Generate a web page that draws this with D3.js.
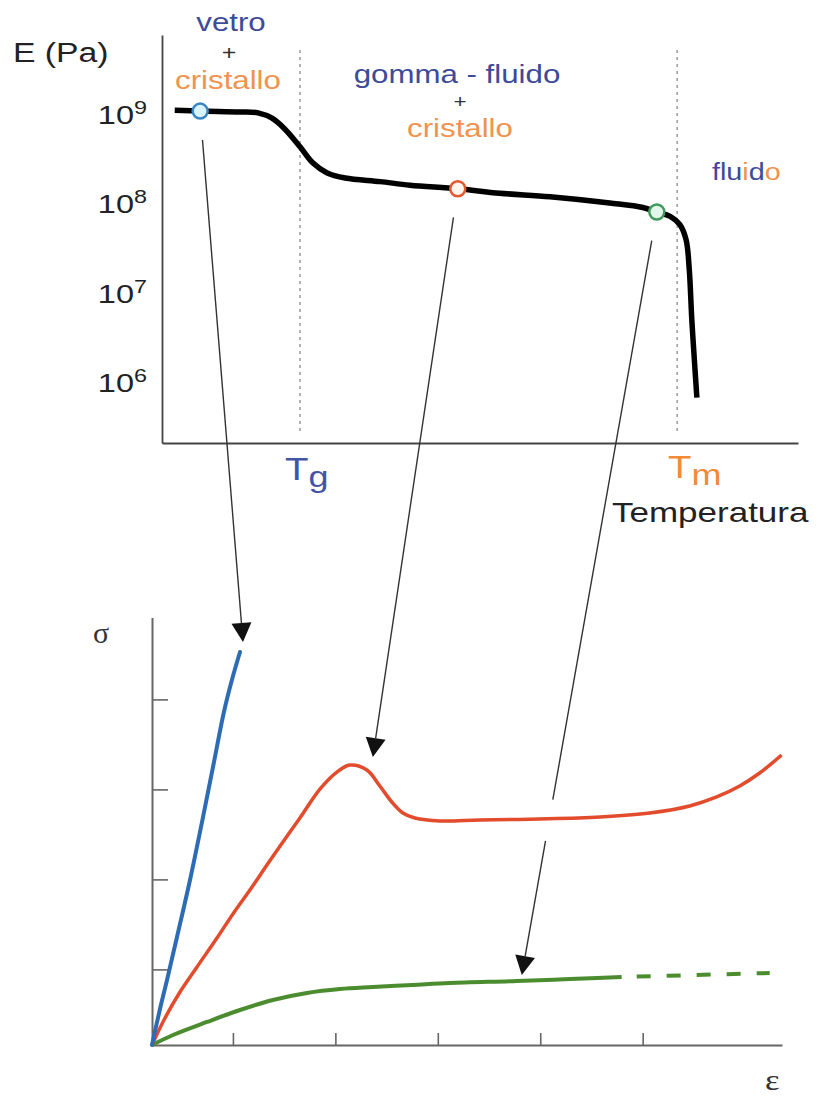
<!DOCTYPE html>
<html><head><meta charset="utf-8">
<script src="https://cdn.jsdelivr.net/npm/d3@7"></script>
<style>html,body{margin:0;padding:0;background:#fff;} svg{display:block;}</style>
</head><body>
<svg id="chart" width="821" height="1096"></svg>
<script>
// ---------- Top chart: modulus E vs temperature (T in arbitrary units along the axis) ----------
const temperature = [2.0, 6.0, 12.3, 15.1, 17.3, 19.3, 21.7, 23.7, 25.9, 28.8, 34.3, 39.0, 46.5, 53.1, 61.0, 70.4, 75.6, 77.8, 79.9, 81.4, 82.4, 82.9, 83.3, 83.8, 84.1];
const logModulus  = [9.02, 9.01, 9.00, 8.99, 8.93, 8.81, 8.61, 8.43, 8.32, 8.26, 8.22, 8.18, 8.14, 8.09, 8.05, 7.98, 7.93, 7.88, 7.83, 7.74, 7.57, 7.24, 6.68, 6.12, 5.80];
const modulusTicks = [1e9, 1e8, 1e7, 1e6];
const modulusTickExp = ["9", "8", "7", "6"];
const transitionT = [21.7, 81.0];           // Tg, Tm
const markerT = [6.0, 46.5, 77.8];
const markerLogE = [9.01, 8.14, 7.88];

// ---------- Bottom chart: stress sigma vs strain epsilon ----------
const strainGlass  = [0, 0.078, 0.146, 0.244, 0.371, 0.498, 0.605, 0.702, 0.780, 0.859];
const stressGlass  = [0, 0.400, 0.720, 1.200, 1.833, 2.533, 3.144, 3.700, 4.056, 4.367];
const strainRubber = [0, 0.127, 0.273, 0.439, 0.634, 0.790, 0.956, 1.122, 1.278, 1.444, 1.639, 1.805, 1.932, 2.098, 2.224, 2.341, 2.449, 2.566, 2.810, 3.200, 3.785, 4.371, 4.859, 5.249, 5.512, 5.737, 5.932, 6.146];
const stressRubber = [0, 0.300, 0.589, 0.867, 1.189, 1.456, 1.722, 2.000, 2.256, 2.522, 2.844, 3.033, 3.111, 3.056, 2.878, 2.700, 2.578, 2.522, 2.489, 2.500, 2.511, 2.533, 2.578, 2.656, 2.756, 2.878, 3.022, 3.222];
const strainMelt   = [0, 0.205, 0.537, 0.859, 1.180, 1.512, 1.834, 2.156, 2.546, 2.907, 3.561, 4.078, 4.585];
const stressMelt   = [0, 0.111, 0.256, 0.389, 0.500, 0.578, 0.622, 0.644, 0.667, 0.689, 0.711, 0.733, 0.756];
const strainMeltDash = [4.585, 6.03];
const stressMeltDash = [0.756, 0.800];
const strainTicks = [0.79, 1.79, 2.79, 3.79, 4.79];
const stressTicks = [0.84, 1.84, 2.84, 3.84];
const arrowTargetStrain = [0.888, 2.156, 3.61];
const arrowTargetStress = [4.478, 3.20, 0.778];

// ---------- drawing ----------
const svg = d3.select("#chart");
svg.append("rect").attr("width", 821).attr("height", 1096).attr("fill", "#fff");
const SANS = "'Liberation Sans', Arial, Helvetica, sans-serif";
const SERIF = "'Liberation Serif', 'Times New Roman', serif";
const BLUE_TXT = "#3d4b98", ORANGE_TXT = "#f09250";
const markerStroke = ["#3a86c2", "#e8552e", "#3f9a5c"];
const markerFill = ["#d9f3fb", "#fff4ee", "#e3f6ea"];

function label(x, y, parts, o) {
  o = o || {};
  const g = svg.append("g").attr("transform", `translate(${x},${y}) scale(${o.sx || 1.25},1)`);
  const t = g.append("text").attr("font-family", o.family || SANS).attr("font-size", o.size || 25)
    .attr("text-anchor", o.anchor || "start").attr("fill", o.fill || "#222");
  parts.forEach(p => {
    const ts = t.append("tspan").text(p.t);
    if (p.fill) ts.attr("fill", p.fill);
    if (p.size) ts.attr("font-size", p.size);
    if (p.dy) ts.attr("dy", p.dy);
  });
  return t;
}

// scales top
const xT = d3.scaleLinear().domain([0, 100]).range([162, 798]);
const yE = d3.scaleLog().domain([1.96e5, 7.28e9]).range([443, 35]);

// transition dotted lines
transitionT.forEach(t => {
  svg.append("line").attr("x1", xT(t)).attr("x2", xT(t))
    .attr("y1", yE.range()[1] + 15).attr("y2", yE.range()[0] - 12)
    .attr("stroke", "#9a9a9a").attr("stroke-width", 1.5).attr("stroke-dasharray", "3,4");
});

// axes top
const axY = svg.append("g").attr("transform", "translate(162,0)")
  .call(d3.axisLeft(yE).tickValues([]).tickSizeOuter(0));
const axX = svg.append("g").attr("transform", "translate(0,443)")
  .call(d3.axisBottom(xT).tickValues([]).tickSizeOuter(0));
[axY, axX].forEach(a => a.select(".domain").attr("stroke", "#444").attr("stroke-width", 1.8));

// tick labels
modulusTicks.forEach((v, i) => {
  label(147, yE(v) + 12, [{ t: "10" }, { t: modulusTickExp[i], size: 18, dy: -10 }],
    { anchor: "end", size: 25, sx: 1.3, fill: "#222" });
});

// modulus curve
const lineTop = d3.line().x(d => xT(d[0])).y(d => yE(Math.pow(10, d[1]))).curve(d3.curveCatmullRom.alpha(0.5));
svg.append("path").datum(d3.zip(temperature, logModulus)).attr("d", lineTop)
  .attr("fill", "none").attr("stroke", "#000").attr("stroke-width", 5.5).attr("stroke-linejoin", "round");

// bottom scales
const xS = d3.scaleLinear().domain([0, 6.15]).range([152, 782]);
const yS = d3.scaleLinear().domain([0, 4.75]).range([1045, 617.5]);

const axYb = svg.append("g").attr("transform", "translate(152,0)")
  .call(d3.axisLeft(yS).tickValues(stressTicks).tickSize(-16).tickSizeOuter(0).tickFormat(""));
const axXb = svg.append("g").attr("transform", "translate(0,1045)")
  .call(d3.axisBottom(xS).tickValues(strainTicks).tickSize(-12).tickSizeOuter(0).tickFormat(""));
[axYb, axXb].forEach(a => {
  a.select(".domain").attr("stroke", "#666").attr("stroke-width", 2);
  a.selectAll(".tick line").attr("stroke", "#666").attr("stroke-width", 1.6);
});

const lineB = d3.line().x(d => xS(d[0])).y(d => yS(d[1])).curve(d3.curveCatmullRom.alpha(0.5));
svg.append("path").datum(d3.zip(strainMelt, stressMelt)).attr("d", lineB)
  .attr("fill", "none").attr("stroke", "#4b8c2f").attr("stroke-width", 4);
svg.append("path").datum(d3.zip(strainMeltDash, stressMeltDash)).attr("d", lineB)
  .attr("fill", "none").attr("stroke", "#4b8c2f").attr("stroke-width", 4)
  .attr("stroke-dasharray", "14,16").attr("stroke-dashoffset", 15);
svg.append("path").datum(d3.zip(strainRubber, stressRubber)).attr("d", lineB)
  .attr("fill", "none").attr("stroke", "#e24b2c").attr("stroke-width", 3.5);
svg.append("path").datum(d3.zip(strainGlass, stressGlass)).attr("d", lineB)
  .attr("fill", "none").attr("stroke", "#2d6cb4").attr("stroke-width", 4).attr("stroke-linecap", "round");

// red curve in screen coords (for arrow gap detection)
const redPts = d3.zip(strainRubber, stressRubber).map(d => [xS(d[0]), yS(d[1])]);
function redYAt(x) {
  for (let k = 1; k < redPts.length; k++) {
    if (x >= redPts[k - 1][0] && x <= redPts[k][0]) {
      const f = (x - redPts[k - 1][0]) / (redPts[k][0] - redPts[k - 1][0]);
      return redPts[k - 1][1] + f * (redPts[k][1] - redPts[k - 1][1]);
    }
  }
  return null;
}

// arrows
markerT.forEach((t, i) => {
  const mx = xT(t), my = yE(Math.pow(10, markerLogE[i]));
  const tx = xS(arrowTargetStrain[i]), ty = yS(arrowTargetStress[i]);
  const dx = tx - mx, dy = ty - my, L = Math.hypot(dx, dy), ux = dx / L, uy = dy / L;
  const sx0 = mx + ux * 29, sy0 = my + uy * 29;
  const headLen = 19, headW = 10;
  const bx = tx - ux * headLen, by = ty - uy * headLen;
  let cross = null, prev = null;
  const N = 400;
  for (let k = 0; k <= N; k++) {
    const px = sx0 + (bx - sx0) * k / N, py = sy0 + (by - sy0) * k / N;
    const ry = redYAt(px);
    if (ry !== null) {
      const s = Math.sign(py - ry);
      if (prev !== null && s !== prev && s !== 0) { cross = k / N; break; }
      prev = s;
    }
  }
  const segs = [];
  const segLen = Math.hypot(bx - sx0, by - sy0);
  if (cross !== null) {
    const g = 21 / segLen;
    segs.push([0, cross - g], [cross + g, 1]);
  } else segs.push([0, 1]);
  segs.forEach(s => {
    svg.append("line")
      .attr("x1", sx0 + (bx - sx0) * s[0]).attr("y1", sy0 + (by - sy0) * s[0])
      .attr("x2", sx0 + (bx - sx0) * s[1]).attr("y2", sy0 + (by - sy0) * s[1])
      .attr("stroke", "#333").attr("stroke-width", 1.4);
  });
  const px = -uy, py = ux;
  svg.append("path")
    .attr("d", `M${tx},${ty}L${bx + px * headW},${by + py * headW}L${bx - px * headW},${by - py * headW}Z`)
    .attr("fill", "#111");
});

// markers
markerT.forEach((t, i) => {
  svg.append("circle").attr("cx", xT(t)).attr("cy", yE(Math.pow(10, markerLogE[i]))).attr("r", 7.5)
    .attr("fill", markerFill[i]).attr("stroke", markerStroke[i]).attr("stroke-width", 2.5);
});

// texts
label(13, 62, [{ t: "E (Pa)" }], { size: 27, sx: 1.25, fill: "#222" });
label(231, 31, [{ t: "vetro" }], { anchor: "middle", fill: BLUE_TXT });
label(229, 60, [{ t: "+" }], { anchor: "middle", size: 20, fill: "#333" });
label(228, 89, [{ t: "cristallo" }], { anchor: "middle", fill: ORANGE_TXT });
label(457, 83, [{ t: "gomma - fluido" }], { anchor: "middle", fill: BLUE_TXT });
label(460, 108, [{ t: "+" }], { anchor: "middle", size: 18, fill: "#333" });
label(460, 137, [{ t: "cristallo" }], { anchor: "middle", fill: ORANGE_TXT });
label(712, 180, [{ t: "flu", fill: BLUE_TXT }, { t: "i", fill: ORANGE_TXT }, { t: "d", fill: BLUE_TXT }, { t: "o", fill: ORANGE_TXT }], { size: 23 });
label(285, 480, [{ t: "T" }, { t: "g", size: 30, dy: 7 }], { size: 32, sx: 1.2, fill: "#4254a6" });
label(668, 478, [{ t: "T" }, { t: "m", size: 30, dy: 7 }], { size: 32, sx: 1.2, fill: "#f28a3a" });
label(612, 522, [{ t: "Temperatura" }], { size: 28, sx: 1.25, fill: "#222" });
label(93, 643, [{ t: "σ" }], { family: SERIF, size: 30, sx: 1, fill: "#333" });
label(765, 1090, [{ t: "ε" }], { family: SERIF, size: 30, sx: 1.15, fill: "#333" });
</script>
</body></html>
